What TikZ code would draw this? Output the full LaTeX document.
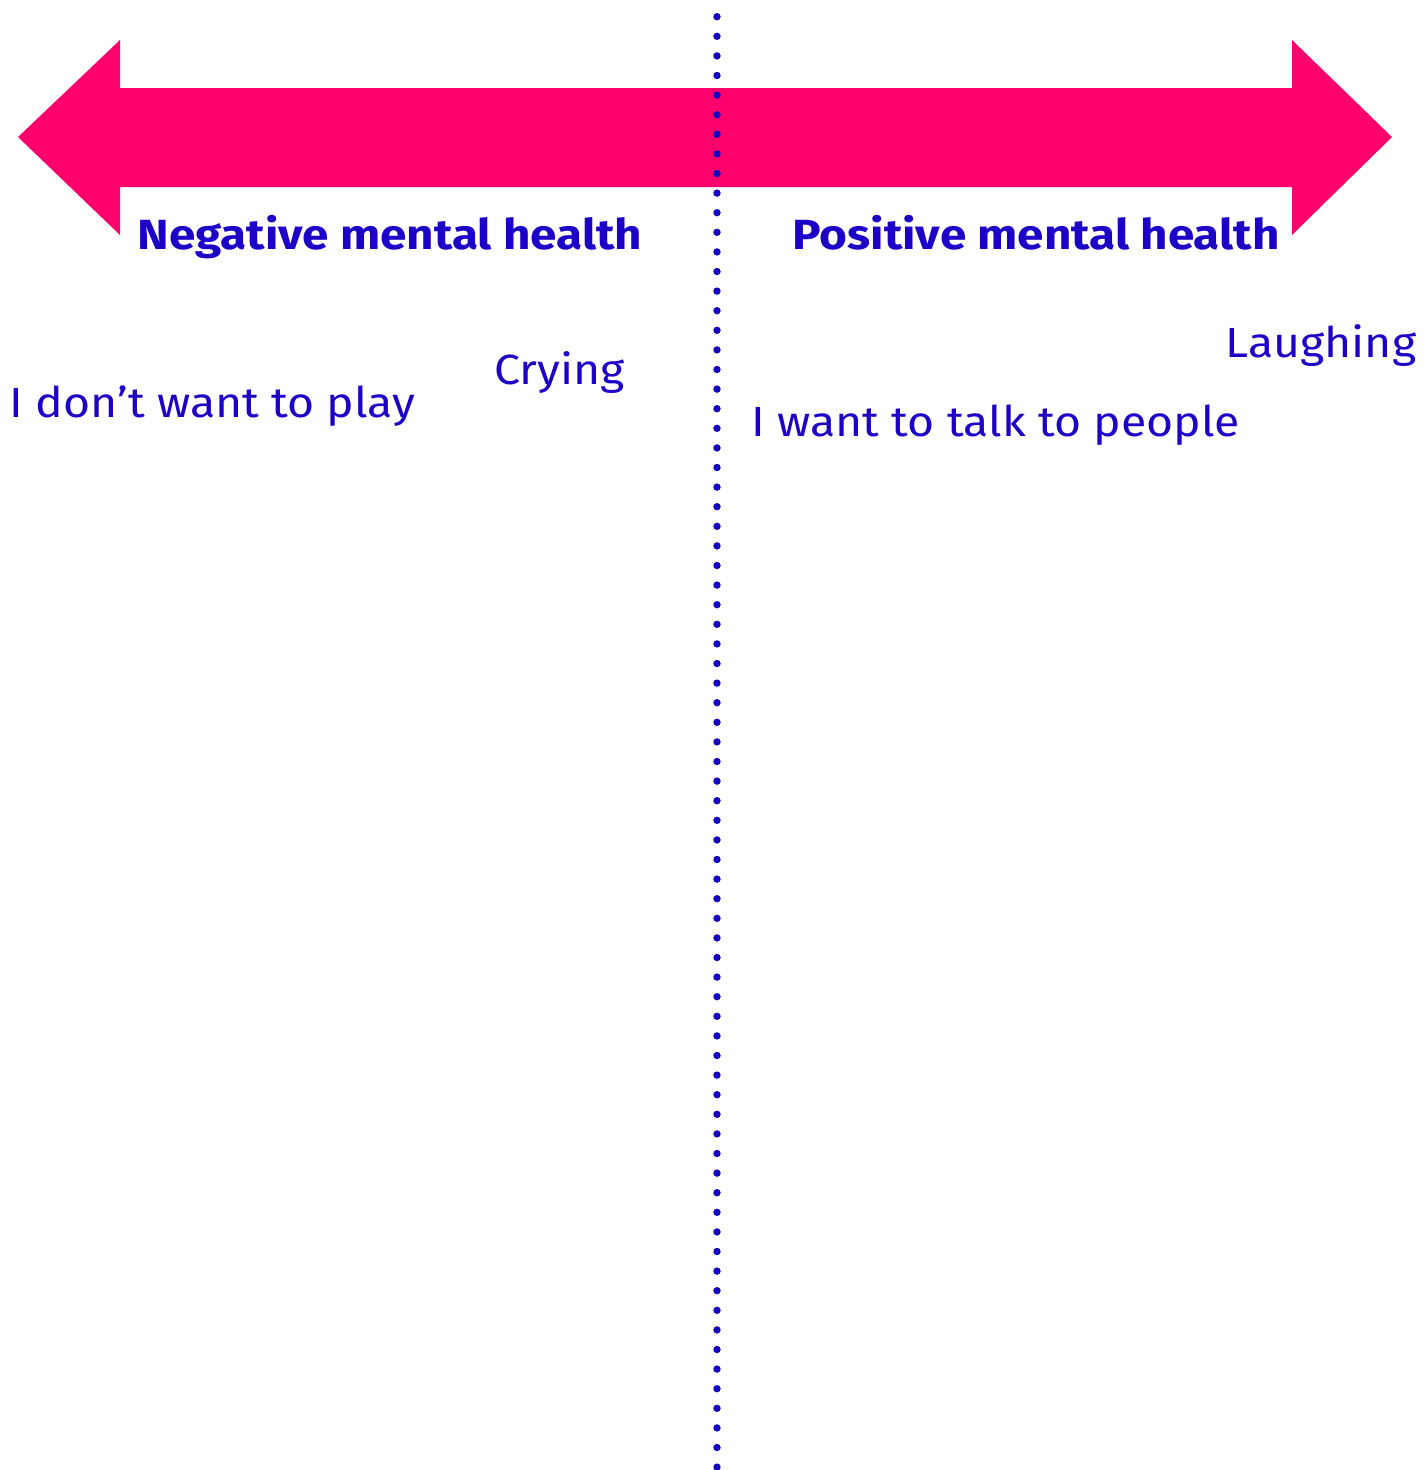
\documentclass[tikz,border=0pt]{standalone}
\usepackage{fontspec}
\setmainfont{Fira Sans}[FakeStretch=1.1, BoldFeatures={FakeStretch=1.13}]
\usepackage{tikz}
\usetikzlibrary{positioning}
\definecolor{arrowpink}{RGB}{255,0,108}
\definecolor{textblue}{RGB}{28,0,200}
\definecolor{dotblue}{RGB}{22,0,192}

\begin{document}
\begin{tikzpicture}[x=0.1mm,y=-0.1mm,
    heading/.style={inner sep=0, anchor=base west, text=textblue, font=\fontsize{12}{14}\selectfont\bfseries},
    feeling/.style={inner sep=0, anchor=base west, text=textblue, font=\fontsize{12}{14}\selectfont}]
\useasboundingbox (0,0) rectangle (1427,1470);

% the double arrow
\fill[arrowpink] (18,137) -- (120,40) -- (120,88) -- (1292,88) -- (1292,40)
    -- (1392,137) -- (1292,235) -- (1292,187) -- (120,187) -- (120,235) -- cycle;

% the dotted middle line
\foreach \i in {0,...,74}
    \fill[dotblue] (717,16.7+19.6*\i) circle (3.7);

% headings
\node[heading] (neg) at (137,249) {Negative mental health};
\node[heading] (pos) at (792,249) {Positive mental health};

% feelings
\node[feeling] (play) at (9,417) {I don’t want to play};
\node[feeling] (cry) at (494,384) {Crying};
\node[feeling] (laugh) at (1225,357) {Laughing};
\node[feeling] (talk) at (751,436) {I want to talk to people};
\end{tikzpicture}
\end{document}
